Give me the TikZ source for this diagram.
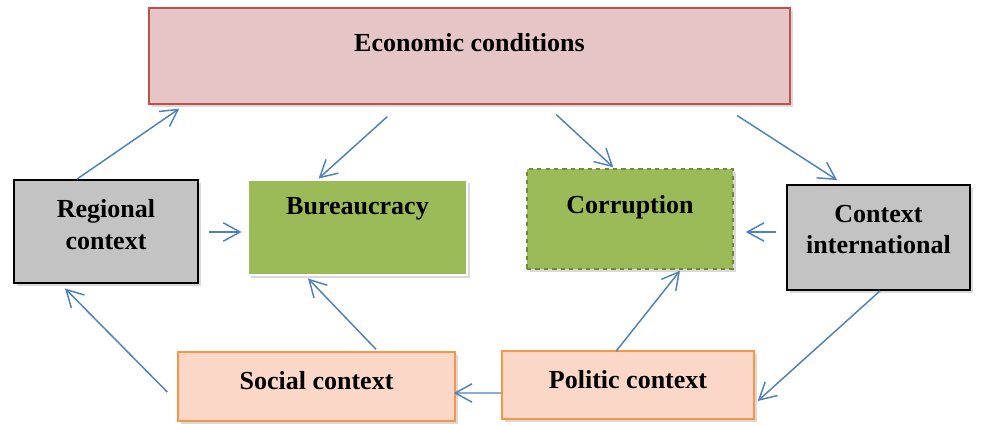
\documentclass[tikz,border=0pt]{standalone}
\usepackage{fontspec}
\setmainfont{Liberation Serif}
\usetikzlibrary{arrows.meta,calc,shadows}

\definecolor{econfill}{HTML}{E5C5C6}
\definecolor{econline}{HTML}{C0504D}
\definecolor{grayfill}{HTML}{C3C3C3}
\definecolor{greenfill}{HTML}{9BBB59}
\definecolor{greenline}{HTML}{71893F}
\definecolor{peachfill}{HTML}{FAD7C7}
\definecolor{peachline}{HTML}{F79646}
\definecolor{linkblue}{HTML}{4F81BD}

\tikzset{
  box/.style={rectangle, inner sep=0pt,
    drop shadow={shadow xshift=2pt, shadow yshift=-2pt, opacity=0.3}},
  econbox/.style={box, fill=econfill, draw=econline, line width=0.9pt},
  graybox/.style={box, fill=grayfill, draw=black, line width=1.3pt},
  greenbox/.style={box, fill=greenfill},
  peachbox/.style={box, fill=peachfill, draw=peachline, line width=1pt},
  txt/.style={font=\fontsize{18.5}{22.5}\selectfont\bfseries, align=center},
  link/.style={draw=linkblue, line width=1.05pt,
    -{Straight Barb[length=4.2mm,width=4.6mm]}}
}

\begin{document}
\begin{tikzpicture}[x=0.025cm,y=-0.025cm]
  \useasboundingbox (0,0) rectangle (992,426);
  % top box
  \node[econbox, minimum width=16.025cm, minimum height=2.4cm,
    label={[txt,yshift=0.33cm]center:Economic conditions}] (econ) at (469.5,56) {};
  % middle row
  \node[graybox, minimum width=4.6cm, minimum height=2.575cm,
    label={[txt,yshift=0.17cm]center:Regional\\context}] (reg) at (106,231.5) {};
  \node[greenbox, draw=white, line width=2pt, minimum width=5.475cm, minimum height=2.375cm,
    label={[txt,yshift=0.48cm]center:Bureaucracy}] (bur) at (357.5,227.5) {};
  \node[greenbox, draw=greenline, dashed, line width=1pt, minimum width=5.15cm, minimum height=2.5cm,
    label={[txt,yshift=0.3cm]center:Corruption}] (cor) at (630,219) {};
  \node[graybox, minimum width=4.575cm, minimum height=2.625cm,
    label={[txt,yshift=0.2cm]center:Context\\international}] (ctx) at (878.5,237.5) {};
  % bottom row
  \node[peachbox, minimum width=6.925cm, minimum height=1.725cm,
    label={[txt,yshift=0.15cm]center:Social context}] (soc) at (316.5,386.5) {};
  \node[peachbox, minimum width=6.3cm, minimum height=1.7cm,
    label={[txt,yshift=0.13cm]center:Politic context}] (pol) at (628,385) {};

  % arrows
  \draw[link] ($(reg.north)+(-29,0)$) -- ($(econ.south west)+(31,4)$);
  \draw[link] ($(econ.south west)+(239,12)$) -- ($(bur.north west)+(72,0)$);
  \draw[link] ($(econ.south west)+(408,10)$) -- ($(cor.north west)+(87,-1)$);
  \draw[link] ($(econ.south west)+(589,11)$) -- ($(ctx.north west)+(51,-4)$);
  \draw[link] ($(reg.east)+(10,0.5)$) -- ($(bur.west)+(-5,4.5)$);
  \draw[link] ($(ctx.west)+(-10,-5.5)$) -- ($(cor.east)+(12,13)$);
  \draw[link] ($(ctx.south)+(1.5,0)$) -- ($(pol.east)+(3,16)$);
  \draw[link] ($(pol.west)+(0,8)$) -- ($(soc.east)+(-2,6.5)$);
  \draw[link] ($(pol.north)+(-12,1)$) -- ($(cor.south)+(50,1)$);
  \draw[link] ($(soc.north)+(59.5,-2)$) -- ($(bur.south)+(-49.5,2)$);
  \draw[link] ($(soc.west)+(-10,5.5)$) -- ($(reg.south)+(-41,4.5)$);
\end{tikzpicture}
\end{document}
